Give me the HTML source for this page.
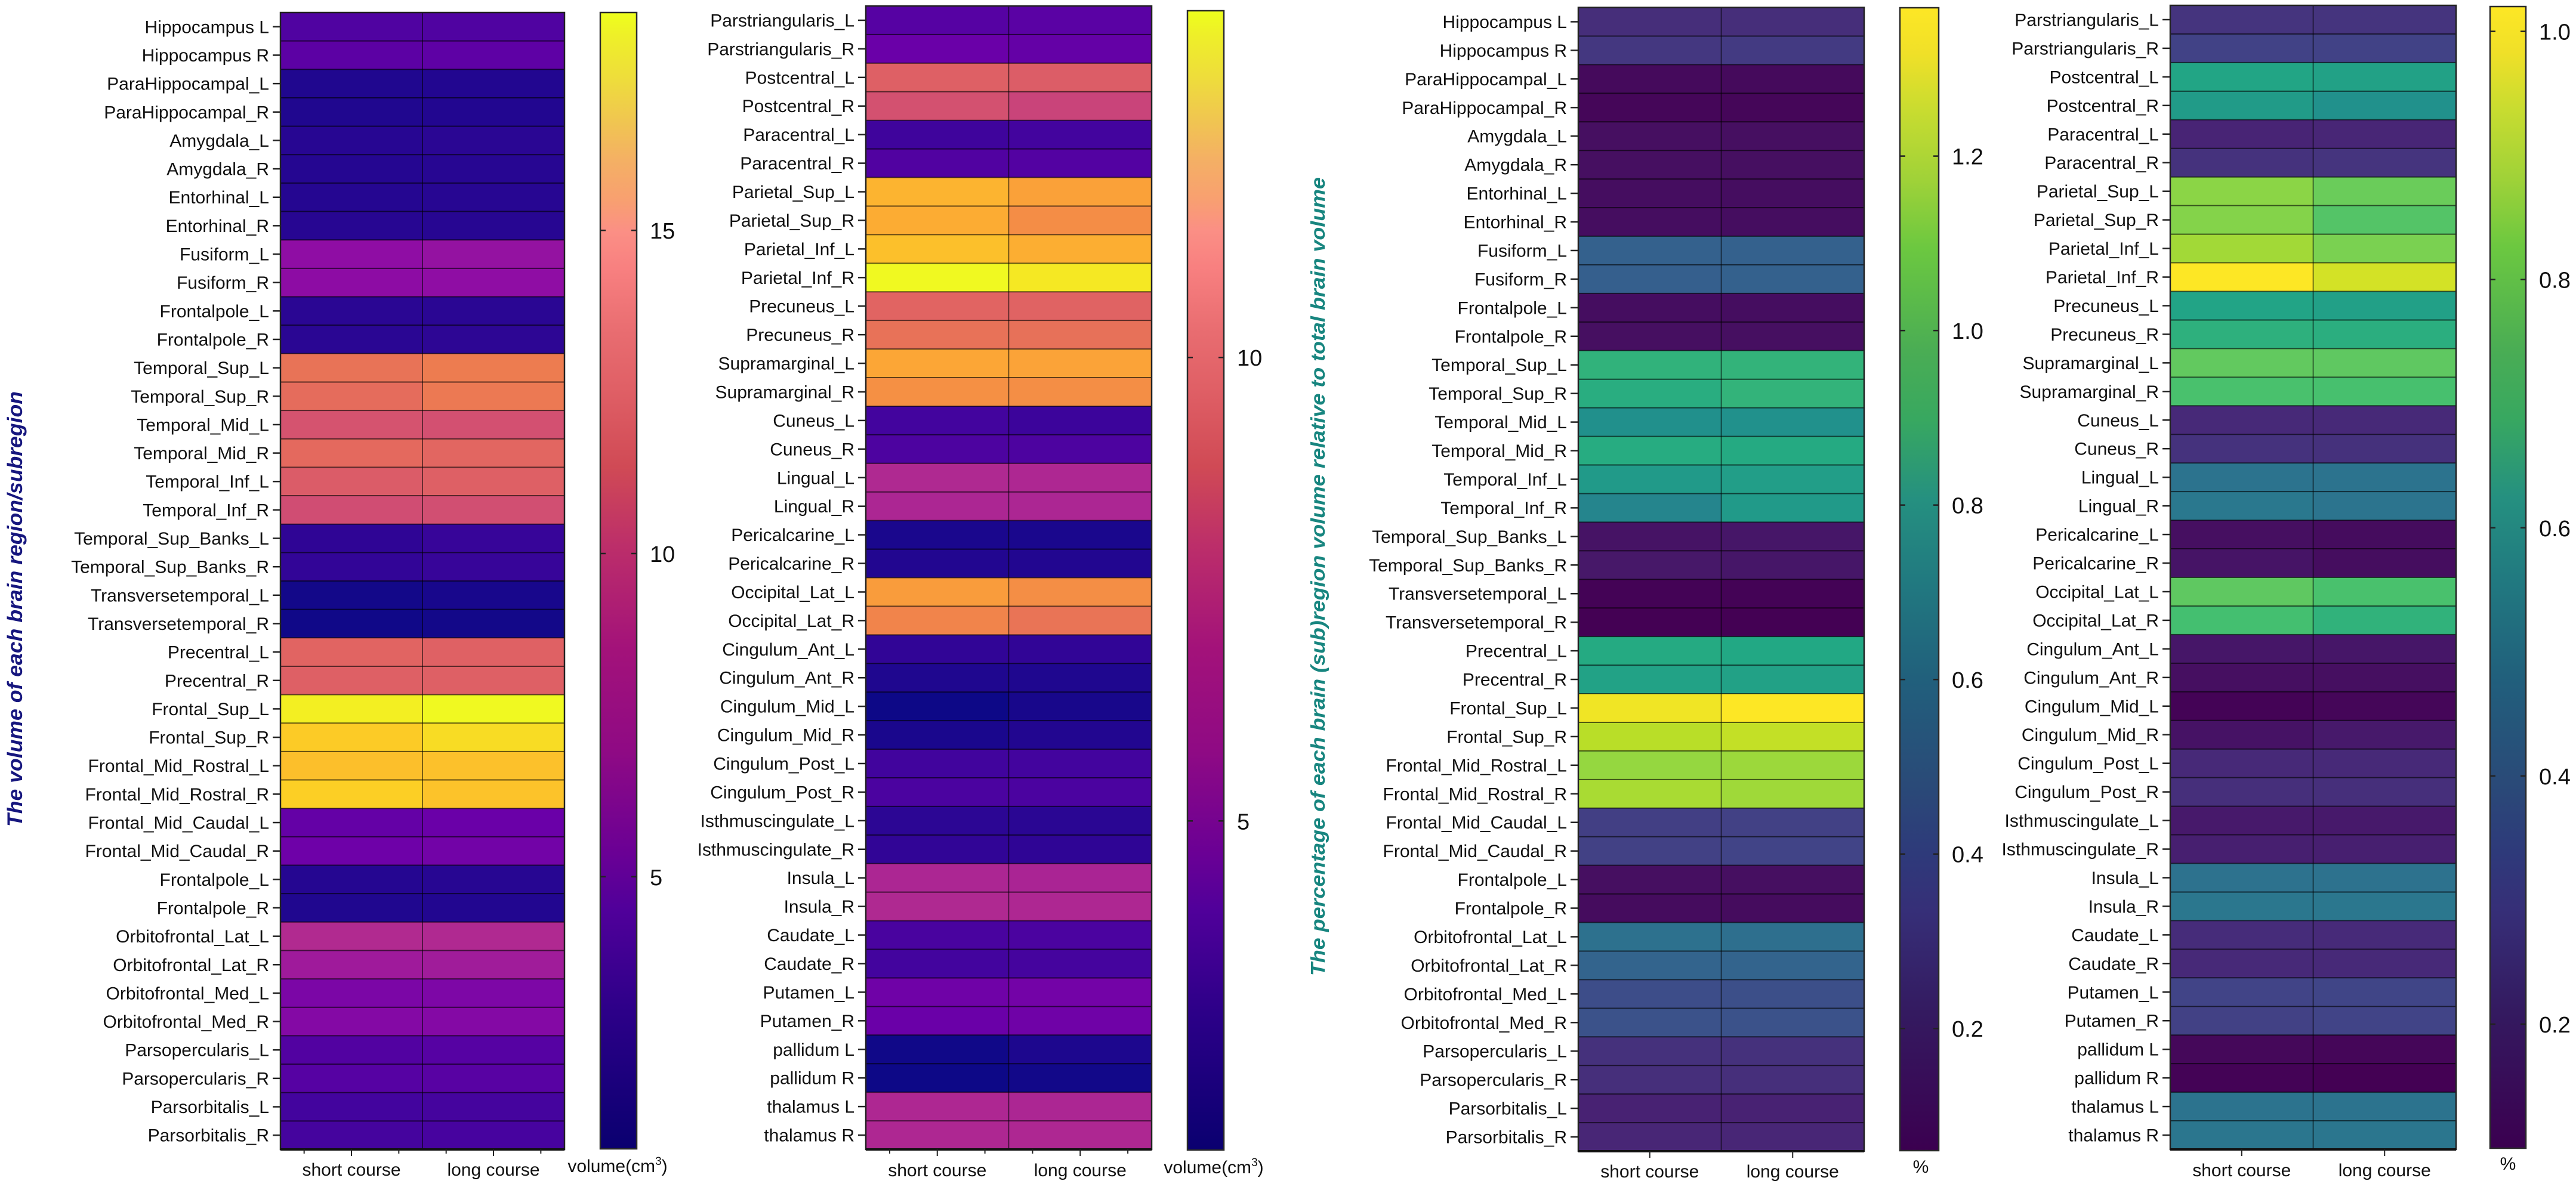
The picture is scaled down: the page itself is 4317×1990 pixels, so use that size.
<!DOCTYPE html>
<html lang="en">
<head>
<meta charset="utf-8">
<title>Brain region volume heatmaps</title>
<style>
html,body{margin:0;padding:0;background:#fff;}
svg{display:block;}
text{font-family:"Liberation Sans",Arial,sans-serif;fill:#111;}
</style>
</head>
<body>
<svg id="figure" xmlns="http://www.w3.org/2000/svg" width="4317" height="1990" viewBox="0 0 4317 1990">
  <rect width="4317" height="1990" fill="#fff"/>
  <defs>
    <linearGradient id="plasmaBar" x1="0" y1="0" x2="0" y2="1">
      <stop offset="0" stop-color="#eeff1c"/><stop offset=".02" stop-color="#eef028"/><stop offset=".06" stop-color="#eedc3c"/><stop offset=".095" stop-color="#f0c650"/><stop offset=".13" stop-color="#f4b064"/><stop offset=".165" stop-color="#f8a070"/><stop offset=".193" stop-color="#fb8f85"/><stop offset=".225" stop-color="#f88080"/><stop offset=".283" stop-color="#e86c70"/><stop offset=".33" stop-color="#e06066"/><stop offset=".40" stop-color="#d04a55"/><stop offset=".47" stop-color="#bc2e6a"/><stop offset=".56" stop-color="#a3127a"/><stop offset=".65" stop-color="#8f0a84"/><stop offset=".74" stop-color="#6a0095"/><stop offset=".79" stop-color="#50009a"/><stop offset=".88" stop-color="#2c0088"/><stop offset="1" stop-color="#0a0070"/>
    </linearGradient>
    <linearGradient id="viridisBar" x1="0" y1="0" x2="0" y2="1">
      <stop offset="0" stop-color="#fde725"/><stop offset=".04" stop-color="#f0e028"/><stop offset=".09" stop-color="#c8dc30"/><stop offset=".15" stop-color="#a0d238"/><stop offset=".21" stop-color="#6cc840"/><stop offset=".30" stop-color="#4aad54"/><stop offset=".36" stop-color="#38a860"/><stop offset=".43" stop-color="#259080"/><stop offset=".50" stop-color="#217a80"/><stop offset=".59" stop-color="#215f7c"/><stop offset=".68" stop-color="#2a4a78"/><stop offset=".74" stop-color="#2e3a7a"/><stop offset=".79" stop-color="#362f78"/><stop offset=".88" stop-color="#341a60"/><stop offset="1" stop-color="#3b0050"/>
    </linearGradient>
  </defs>
  <text transform="translate(37,1386) rotate(-90)" font-size="35" font-weight="bold" font-style="italic" style="fill:#16167e" textLength="730" lengthAdjust="spacingAndGlyphs">The volume of each brain region/subregion</text>
  <text transform="translate(2220,1636) rotate(-90)" font-size="33" font-weight="bold" font-style="italic" style="fill:#17857f" textLength="1339" lengthAdjust="spacingAndGlyphs">The percentage of each brain (sub)region volume relative to total brain volume</text>
  <g id="panels"></g>
</svg>
<script>
const courseLabels = ["short course", "long course"];

const regionsFirstColumn = ["Hippocampus L","Hippocampus R","ParaHippocampal_L","ParaHippocampal_R","Amygdala_L","Amygdala_R","Entorhinal_L","Entorhinal_R","Fusiform_L","Fusiform_R","Frontalpole_L","Frontalpole_R","Temporal_Sup_L","Temporal_Sup_R","Temporal_Mid_L","Temporal_Mid_R","Temporal_Inf_L","Temporal_Inf_R","Temporal_Sup_Banks_L","Temporal_Sup_Banks_R","Transversetemporal_L","Transversetemporal_R","Precentral_L","Precentral_R","Frontal_Sup_L","Frontal_Sup_R","Frontal_Mid_Rostral_L","Frontal_Mid_Rostral_R","Frontal_Mid_Caudal_L","Frontal_Mid_Caudal_R","Frontalpole_L","Frontalpole_R","Orbitofrontal_Lat_L","Orbitofrontal_Lat_R","Orbitofrontal_Med_L","Orbitofrontal_Med_R","Parsopercularis_L","Parsopercularis_R","Parsorbitalis_L","Parsorbitalis_R"];
const regionsSecondColumn = ["Parstriangularis_L","Parstriangularis_R","Postcentral_L","Postcentral_R","Paracentral_L","Paracentral_R","Parietal_Sup_L","Parietal_Sup_R","Parietal_Inf_L","Parietal_Inf_R","Precuneus_L","Precuneus_R","Supramarginal_L","Supramarginal_R","Cuneus_L","Cuneus_R","Lingual_L","Lingual_R","Pericalcarine_L","Pericalcarine_R","Occipital_Lat_L","Occipital_Lat_R","Cingulum_Ant_L","Cingulum_Ant_R","Cingulum_Mid_L","Cingulum_Mid_R","Cingulum_Post_L","Cingulum_Post_R","Isthmuscingulate_L","Isthmuscingulate_R","Insula_L","Insula_R","Caudate_L","Caudate_R","Putamen_L","Putamen_R","pallidum L","pallidum R","thalamus L","thalamus R"];

const volumeFirstShort = [3.18,3.70,1.42,1.42,1.68,1.59,1.59,1.68,6.08,5.99,1.77,1.77,12.15,11.80,10.30,11.62,10.83,9.95,1.94,2.03,0.98,0.89,11.36,11.10,17.96,16.46,15.94,16.64,4.06,4.50,1.59,1.42,7.84,6.87,5.11,5.55,3.26,3.44,2.65,2.74];
const volumeFirstLong = [3.18,3.79,1.50,1.50,1.77,1.68,1.68,1.68,6.34,6.08,1.77,1.86,12.68,12.50,10.13,11.45,11.10,10.04,2.21,2.21,1.15,0.98,11.18,11.10,18.37,17.17,16.02,16.11,4.32,4.67,1.68,1.50,7.75,6.96,5.20,5.55,3.44,3.53,2.74,2.82];
const volumeSecondShort = [3.30,3.91,8.65,8.03,2.62,3.17,11.72,11.47,12.09,13.74,8.83,9.38,11.29,10.49,2.74,3.05,6.31,6.19,1.76,1.94,10.92,10.06,2.31,1.88,1.45,1.76,2.68,2.99,2.19,2.31,6.19,6.31,2.93,2.74,4.09,3.91,1.51,1.45,6.25,6.25];
const volumeSecondLong = [3.42,3.73,8.52,7.48,2.74,3.23,11.11,10.37,11.54,13.26,8.77,9.32,11.17,10.43,2.56,3.05,6.25,6.19,1.76,1.94,10.43,9.45,2.31,1.88,1.70,1.94,2.74,2.99,2.13,2.25,6.12,6.25,2.99,2.80,4.22,4.09,1.82,1.57,6.19,6.25];
const percentFirstShort = [0.23,0.27,0.093,0.08,0.112,0.112,0.106,0.106,0.466,0.453,0.106,0.112,0.905,0.872,0.708,0.866,0.767,0.65,0.126,0.145,0.067,0.06,0.859,0.813,1.344,1.232,1.16,1.2,0.302,0.309,0.112,0.10,0.545,0.479,0.368,0.388,0.243,0.237,0.184,0.198];
const percentFirstLong = [0.23,0.283,0.093,0.08,0.112,0.112,0.106,0.106,0.466,0.466,0.106,0.112,0.911,0.911,0.715,0.859,0.787,0.767,0.139,0.139,0.067,0.06,0.846,0.807,1.37,1.252,1.174,1.18,0.309,0.322,0.112,0.10,0.538,0.479,0.374,0.388,0.243,0.237,0.184,0.198];
const percentSecondShort = [0.238,0.279,0.638,0.601,0.192,0.233,0.859,0.85,0.891,1.02,0.634,0.684,0.795,0.753,0.206,0.233,0.45,0.468,0.137,0.151,0.79,0.744,0.155,0.137,0.105,0.146,0.206,0.224,0.164,0.178,0.445,0.463,0.215,0.206,0.284,0.275,0.118,0.105,0.45,0.459];
const percentSecondLong = [0.238,0.279,0.624,0.56,0.197,0.238,0.808,0.772,0.836,0.96,0.62,0.675,0.79,0.749,0.206,0.229,0.45,0.454,0.128,0.132,0.753,0.693,0.155,0.137,0.114,0.164,0.206,0.224,0.164,0.178,0.445,0.463,0.21,0.206,0.289,0.284,0.114,0.10,0.45,0.459];

const ticksVolumeFirst = [5, 10, 15];
const ticksVolumeSecond = [5, 10];
const ticksPercentFirst = [0.2, 0.4, 0.6, 0.8, 1.0, 1.2];
const ticksPercentSecond = [0.2, 0.4, 0.6, 0.8, 1.0];

const plasmaStops = ["#0d0887","#41049d","#6a00a8","#8f0da4","#b12a90","#cc4778","#e16462","#f1844b","#fca636","#fcce25","#f0f921"];
const viridisStops = ["#440154","#482475","#414487","#355f8d","#2a788e","#21918c","#22a884","#44bf70","#7ad151","#bddf26","#fde725"];

const SVG_NS = "http://www.w3.org/2000/svg";
const root = document.getElementById("panels");

function hexToRgb(hex) {
  return [1, 3, 5].map(function (i) { return parseInt(hex.substr(i, 2), 16); });
}
function colorScale(stops, min, max) {
  return function (value) {
    const t = Math.max(0, Math.min(1, (value - min) / (max - min))) * (stops.length - 1);
    const i = Math.min(stops.length - 2, Math.floor(t));
    const a = hexToRgb(stops[i]);
    const b = hexToRgb(stops[i + 1]);
    const f = t - i;
    return "rgb(" + a.map(function (c, k) { return Math.round(c + (b[k] - c) * f); }).join(",") + ")";
  };
}
function make(tag, attrs, parent) {
  const el = document.createElementNS(SVG_NS, tag);
  Object.keys(attrs).forEach(function (k) { el.setAttribute(k, attrs[k]); });
  parent.appendChild(el);
  return el;
}

function drawPanel(cfg) {
  const g = make("g", {}, root);
  
  

  const rows = cfg.categories.length;
  const rowH = (cfg.bottom - cfg.top) / rows;
  const colW = (cfg.right - cfg.left) / 2;
  const rowY = function (i) { return cfg.top + i * rowH; };
  const colX = function (j) { return cfg.left + j * colW; };
  const fill = colorScale(cfg.stops, cfg.min, cfg.max);
  const series = [cfg.shortValues, cfg.longValues];

  series.forEach(function (values, j) {
    values.forEach(function (v, i) {
      const cell = make("rect", { x: colX(j), y: rowY(i), width: colW + 0.5, height: rowH + 0.5, fill: fill(v) }, g);
      
      
    });
  });

  cfg.categories.forEach(function (name, i) {
    const cy = rowY(i) + rowH / 2;
    if (i > 0) {
      const sep = make("line", { x1: cfg.left, x2: cfg.right, y1: rowY(i), y2: rowY(i), stroke: "#000", "stroke-width": 2, "stroke-opacity": 0.6 }, g);
      
      
    }
    const tick = make("line", { x1: cfg.left - 13, x2: cfg.left, y1: cy, y2: cy, stroke: "#222", "stroke-width": 2.5 }, g);
    
    
    const label = make("text", { x: cfg.left - 19, y: cy + 10.5, "text-anchor": "end", "font-size": 30 }, g);
    
    
    label.textContent = name;
  });

  const midLine = make("line", { x1: colX(1), x2: colX(1), y1: cfg.top, y2: cfg.bottom, stroke: "#000", "stroke-width": 1.6, "stroke-opacity": 0.65 }, g);
  
  

  const frame = make("rect", { x: cfg.left, y: cfg.top, width: cfg.right - cfg.left, height: cfg.bottom - cfg.top, fill: "none", stroke: "#222", "stroke-width": 2.5 }, g);
  
  

  const baseLine = make("line", { x1: cfg.left, x2: cfg.right, y1: cfg.bottom, y2: cfg.bottom, stroke: "#111", "stroke-width": 4 }, g);
  
  

  courseLabels.forEach(function (name, j) {
    const cx = colX(j) + colW / 2;
    const tick = make("line", { x1: cx, x2: cx, y1: cfg.bottom, y2: cfg.bottom + 11, stroke: "#222", "stroke-width": 2 }, g);
    
    
    if (cfg.minorTicks) {
      [-1 / 3, 1 / 3].forEach(function (off) {
        const mx = cx + off * colW;
        const minor = make("line", { x1: mx, x2: mx, y1: cfg.bottom, y2: cfg.bottom + 7, stroke: "#222", "stroke-width": 2 }, g);
        
        
      });
    }
    const label = make("text", { x: cx, y: cfg.xLabelY, "text-anchor": "middle", "font-size": 30 }, g);
    
    
    label.textContent = name;
  });

  const bar = make("rect", { x: cfg.barLeft, y: cfg.barTop, width: cfg.barRight - cfg.barLeft, height: cfg.barBottom - cfg.barTop, fill: "url(#" + cfg.gradient + ")", stroke: "#2a2a2a", "stroke-width": 2.5 }, g);
  
  

  const barY = function (v) { return cfg.barBottom - (v - cfg.min) / (cfg.max - cfg.min) * (cfg.barBottom - cfg.barTop); };
  cfg.ticks.forEach(function (v) {
    const y = barY(v);
    [[cfg.barLeft, cfg.barLeft + 9], [cfg.barRight - 9, cfg.barRight]].forEach(function (seg) {
      const tick = make("line", { x1: seg[0], x2: seg[1], y1: y, y2: y, stroke: "#222", "stroke-width": 2.5 }, g);
      
      
    });
    const label = make("text", { x: cfg.barRight + 22, y: y + 14, "font-size": 38 }, g);
    
    
    label.textContent = cfg.tickDigits ? v.toFixed(cfg.tickDigits) : String(v);
  });

  const unit = make("text", { x: cfg.unitX, y: cfg.unitY, "text-anchor": "middle", "font-size": 30 }, g);
  
  
  if (cfg.unit === "volume") {
    unit.appendChild(document.createTextNode("volume(cm"));
    const sup = make("tspan", { dy: -12, "font-size": 19 }, unit);
    sup.textContent = "3";
    const close = make("tspan", { dy: 12 }, unit);
    close.textContent = ")";
  } else {
    unit.textContent = cfg.unit;
  }
}

drawPanel({ categories: regionsFirstColumn, shortValues: volumeFirstShort, longValues: volumeFirstLong, ticks: ticksVolumeFirst, stops: plasmaStops, gradient: "plasmaBar", min: 0.79, max: 18.37, tickDigits: 0, left: 470, right: 946, top: 21, bottom: 1927, minorTicks: true, xLabelY: 1971, barLeft: 1006, barRight: 1067, barTop: 21, barBottom: 1926, unit: "volume", unitX: 1035, unitY: 1965 });
drawPanel({ categories: regionsSecondColumn, shortValues: volumeSecondShort, longValues: volumeSecondLong, ticks: ticksVolumeSecond, stops: plasmaStops, gradient: "plasmaBar", min: 1.45, max: 13.74, tickDigits: 0, left: 1451, right: 1930, top: 10, bottom: 1927, minorTicks: true, xLabelY: 1972, barLeft: 1990, barRight: 2051, barTop: 18, barBottom: 1928, unit: "volume", unitX: 2034, unitY: 1967 });
drawPanel({ categories: regionsFirstColumn, shortValues: percentFirstShort, longValues: percentFirstLong, ticks: ticksPercentFirst, stops: viridisStops, gradient: "viridisBar", min: 0.06, max: 1.37, tickDigits: 1, left: 2645, right: 3124, top: 12.5, bottom: 1930, minorTicks: false, xLabelY: 1974, barLeft: 3184, barRight: 3249, barTop: 13, barBottom: 1929, unit: "%", unitX: 3219, unitY: 1966 });
drawPanel({ categories: regionsSecondColumn, shortValues: percentSecondShort, longValues: percentSecondLong, ticks: ticksPercentSecond, stops: viridisStops, gradient: "viridisBar", min: 0.10, max: 1.02, tickDigits: 1, left: 3637, right: 4116, top: 9, bottom: 1927, minorTicks: false, xLabelY: 1972, barLeft: 4173, barRight: 4233, barTop: 11, barBottom: 1925, unit: "%", unitX: 4203, unitY: 1961 });
</script>
</body>
</html>
